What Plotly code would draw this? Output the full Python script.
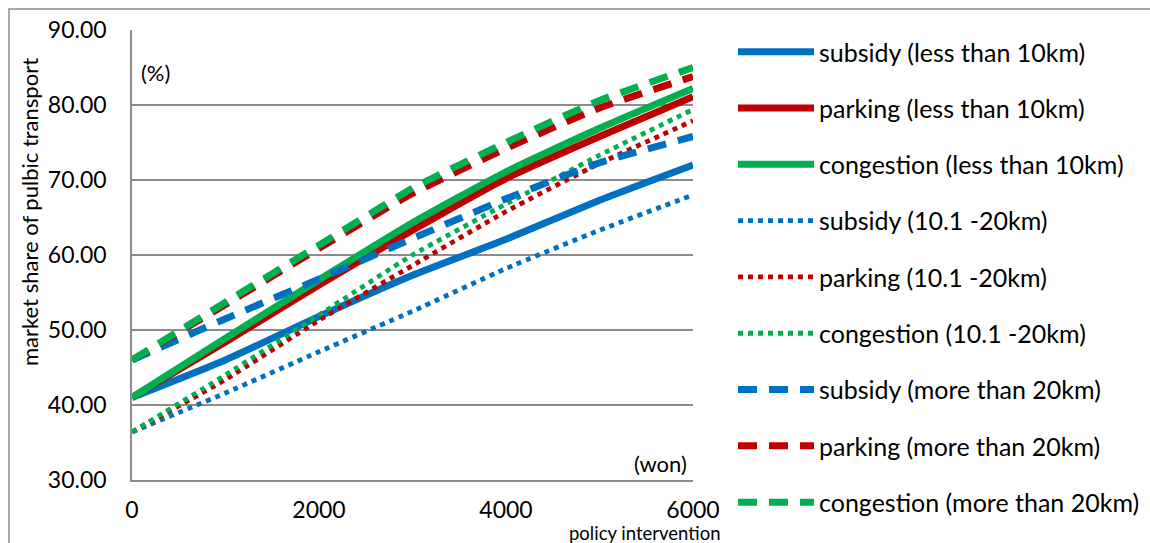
import plotly.graph_objects as go

# policy intervention level (won)
x_won = [0, 1000, 2000, 3000, 4000, 5000, 6000]

# market share of public transport (%) by measure and trip distance
subsidy_lt10 = [41.0, 46.0, 51.8, 57.3, 62.1, 67.3, 72.0]
parking_lt10 = [41.0, 48.4, 56.0, 63.3, 70.2, 75.8, 81.1]
congestion_lt10 = [41.0, 48.9, 56.7, 64.3, 71.1, 76.9, 82.2]

subsidy_10_20 = [36.4, 41.6, 47.1, 52.5, 58.2, 63.3, 68.0]
parking_10_20 = [36.4, 43.4, 51.3, 58.6, 65.8, 72.2, 77.9]
congestion_10_20 = [36.4, 44.0, 52.0, 60.0, 66.8, 73.3, 79.4]

subsidy_gt20 = [46.0, 51.5, 56.8, 62.2, 67.5, 72.3, 75.8]
parking_gt20 = [46.0, 53.4, 60.9, 68.2, 74.2, 79.6, 83.8]
congestion_gt20 = [46.0, 53.7, 61.3, 68.9, 75.0, 80.6, 85.0]

y_ticks = [30, 40, 50, 60, 70, 80, 90]
x_ticks = [0, 2000, 4000, 6000]

BLUE = "#0070C0"
RED = "#C00000"
GREEN = "#00B050"
GRID = "#8C8C8C"
FONT = "Lato"

DOT = "5px,5px"
DASH = "19px,12px"

series = [
    ("subsidy (less than 10km)", subsidy_lt10, BLUE, "solid", 7),
    ("parking (less than 10km)", parking_lt10, RED, "solid", 7),
    ("congestion (less than 10km)", congestion_lt10, GREEN, "solid", 7),
    ("subsidy (10.1 -20km)", subsidy_10_20, BLUE, DOT, 4.8),
    ("parking (10.1 -20km)", parking_10_20, RED, DOT, 4.8),
    ("congestion (10.1 -20km)", congestion_10_20, GREEN, DOT, 4.8),
    ("subsidy (more than 20km)", subsidy_gt20, BLUE, DASH, 7),
    ("parking (more than 20km)", parking_gt20, RED, DASH, 7),
    ("congestion (more than 20km)", congestion_gt20, GREEN, DASH, 7),
]

fig = go.Figure()
for i, (name, vals, color, dash, width) in enumerate(series):
    fig.add_trace(go.Scatter(
        x=x_won, y=vals, name=name, mode="lines",
        line=dict(color=color, dash=dash, width=width, shape="spline", smoothing=0.5),
        legendgroup=f"g{i}",
    ))

W, H = 1150, 543
L, R, T, B = 132, 457, 30, 63
pw, ph = W - L - R, H - T - B


def px_to_paper_x(px):
    return (px - L) / pw


def px_to_paper_y(py):
    return (H - B - py) / ph


fig.update_layout(
    width=W, height=H,
    margin=dict(l=L, r=R, t=T, b=B, pad=0, autoexpand=False),
    paper_bgcolor="white", plot_bgcolor="white",
    font=dict(family=FONT, color="black", size=22),
    showlegend=True,
    legend=dict(
        x=px_to_paper_x(733), y=px_to_paper_y(29), xanchor="left", yanchor="top",
        font=dict(family=FONT, size=25, color="black"),
        itemwidth=76, tracegroupgap=20.8, traceorder="grouped",
        bgcolor="rgba(0,0,0,0)", maxheight=540,
    ),
    xaxis=dict(
        range=[0, 6000], tickvals=x_ticks, ticktext=[str(v) for v in x_ticks],
        showgrid=False, zeroline=False, showline=True, linecolor=GRID, linewidth=1.5,
        ticks="", tickfont=dict(family=FONT, size=23), ticklabelstandoff=9,
    ),
    yaxis=dict(
        range=[30, 90], tickvals=y_ticks, ticktext=[f"{v:.2f}" for v in y_ticks],
        showgrid=True, gridcolor=GRID, gridwidth=1.5, zeroline=False,
        showline=True, linecolor=GRID, linewidth=1.5,
        ticks="", tickfont=dict(family=FONT, size=23), ticklabelstandoff=19,
    ),
)

# outer chart border
fig.add_shape(
    type="rect", xref="paper", yref="paper", layer="below",
    x0=px_to_paper_x(9), x1=px_to_paper_x(1160),
    y0=px_to_paper_y(560), y1=px_to_paper_y(9),
    line=dict(color=GRID, width=1.5), fillcolor="rgba(0,0,0,0)",
)

annotations = [
    dict(text="market share of pulbic transport", x=px_to_paper_x(29), y=px_to_paper_y(212),
         textangle=-90, font=dict(family=FONT, size=22), xanchor="center", yanchor="middle"),
    dict(text="(%)", x=px_to_paper_x(139), y=px_to_paper_y(73),
         font=dict(family=FONT, size=22), xanchor="left", yanchor="middle"),
    dict(text="(won)", x=px_to_paper_x(689), y=px_to_paper_y(463),
         font=dict(family=FONT, size=22), xanchor="right", yanchor="middle"),
    dict(text="policy intervention", x=px_to_paper_x(645), y=px_to_paper_y(532.5),
         font=dict(family=FONT, size=18.5), xanchor="center", yanchor="middle"),
]
for a in annotations:
    fig.add_annotation(xref="paper", yref="paper", showarrow=False, **a)

fig.write_html("out.html")
